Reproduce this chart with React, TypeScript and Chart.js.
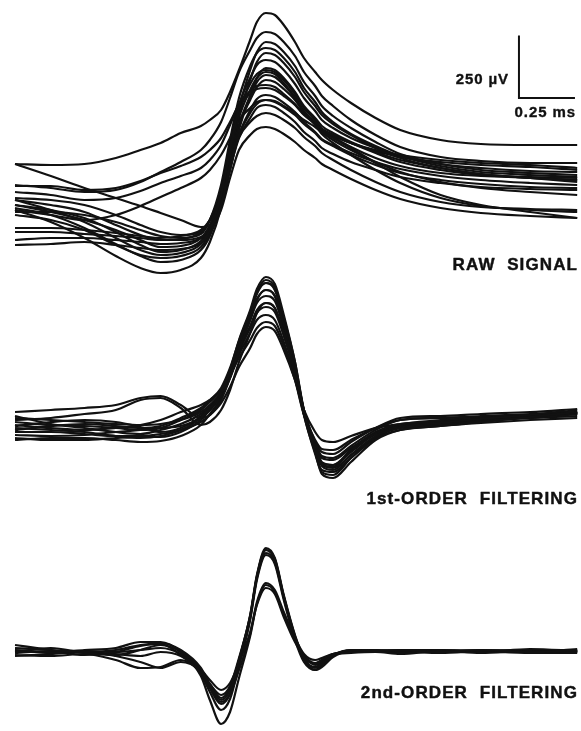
import React, { useEffect, useRef } from "react";
import { Chart, registerables } from "chart.js";

Chart.register(...registerables);

// Sample times (ms) shared by every trace
const TIME_MS = [0, 0.16, 0.31, 0.45, 0.56, 0.65, 0.74, 0.83, 0.87, 0.92, 0.96, 1.0, 1.05, 1.08, 1.12, 1.16, 1.2, 1.25, 1.29, 1.34, 1.37, 1.42, 1.5, 1.61, 1.72, 1.9, 2.08, 2.3, 2.51];

// Raw signal sweeps (µV, relative to panel baseline)
const RAW_SIGNAL = [
  [184, 180, 184, 208, 240, 268, 308, 336, 360, 400, 472, 560, 680, 752, 788, 780, 740, 672, 608, 552, 520, 480, 428, 368, 320, 280, 264, 260, 260],
  [184, 136, 88, 48, 16, -12, -40, -68, -64, 20, 180, 300, 388, 424, 440, 436, 416, 388, 360, 332, 312, 288, 248, 188, 132, 60, 20, -8, -32],
  [100, 88, 72, 80, 112, 152, 192, 240, 280, 352, 448, 552, 640, 688, 712, 704, 672, 616, 552, 496, 456, 416, 360, 300, 252, 212, 196, 188, 188],
  [40, 0, -48, -112, -160, -180, -172, -136, -80, 60, 240, 408, 560, 632, 672, 664, 632, 576, 512, 456, 416, 376, 328, 272, 224, 184, 160, 148, 140],
  [20, -8, -40, -80, -120, -148, -144, -112, -60, 60, 220, 380, 520, 592, 628, 620, 588, 532, 472, 416, 380, 344, 300, 248, 208, 168, 144, 128, 120],
  [-88, -88, -96, -104, -112, -120, -120, -108, -72, 20, 160, 320, 456, 528, 568, 560, 528, 472, 416, 368, 336, 308, 272, 232, 200, 168, 144, 128, 112],
  [0, -48, -112, -184, -232, -252, -240, -192, -128, 8, 180, 340, 456, 512, 540, 532, 500, 448, 392, 340, 304, 268, 220, 160, 108, 48, 16, 0, -8],
  [40, 20, -8, -60, -100, -120, -116, -88, -40, 60, 200, 340, 440, 492, 520, 512, 484, 440, 392, 352, 324, 300, 268, 228, 192, 160, 140, 128, 120],
  [96, 96, 80, 88, 116, 148, 176, 212, 240, 288, 352, 420, 464, 484, 488, 480, 456, 420, 380, 344, 320, 296, 268, 240, 220, 200, 188, 180, 168],
  [-120, -112, -112, -120, -128, -136, -132, -112, -72, 20, 160, 300, 400, 444, 460, 452, 428, 392, 352, 312, 284, 260, 228, 192, 164, 136, 120, 108, 100],
  [0, -20, -40, -20, 16, 52, 88, 128, 160, 220, 288, 360, 408, 432, 440, 432, 412, 380, 344, 308, 280, 256, 220, 180, 148, 120, 104, 92, 88],
  [20, 0, -32, -88, -140, -168, -160, -124, -72, 40, 180, 292, 352, 376, 388, 380, 360, 328, 292, 256, 228, 200, 160, 112, 72, 32, 12, 4, 0],
  [-140, -136, -128, -140, -152, -160, -156, -132, -88, 0, 128, 240, 300, 324, 332, 324, 304, 272, 240, 208, 184, 160, 124, 80, 44, 8, -12, -24, -32],
  [48, 40, 20, -20, -60, -88, -100, -88, -40, 80, 260, 420, 528, 580, 600, 592, 560, 504, 448, 396, 360, 328, 288, 248, 216, 184, 168, 156, 152],
  [72, 60, 40, 48, 76, 108, 136, 168, 200, 260, 340, 424, 476, 496, 500, 492, 464, 424, 384, 348, 324, 300, 268, 236, 212, 192, 180, 172, 160],
  [-20, -40, -80, -140, -180, -192, -184, -148, -92, 40, 220, 392, 504, 544, 560, 552, 520, 464, 408, 360, 324, 292, 252, 208, 176, 148, 136, 132, 128],
  [8, -20, -72, -136, -184, -208, -200, -160, -104, 24, 200, 368, 480, 528, 552, 544, 508, 452, 396, 348, 312, 280, 240, 192, 152, 112, 88, 72, 60],
  [-8, -8, -20, -48, -80, -104, -112, -96, -40, 100, 280, 448, 576, 628, 648, 640, 608, 552, 488, 432, 392, 352, 304, 256, 216, 176, 152, 140, 132],
  [-72, -72, -80, -92, -104, -112, -104, -80, -40, 48, 168, 288, 368, 408, 420, 412, 388, 352, 312, 276, 248, 224, 192, 160, 132, 108, 92, 84, 80],
];

// 1st-order filtered sweeps (µV)
const FIRST_ORDER = [
  [8, 0, -8, -16, -20, -16, 0, 32, 60, 112, 200, 320, 440, 524, 572, 544, 420, 232, 32, -128, -216, -232, -168, -80, -40, -24, -8, 12, 32],
  [-32, -40, -48, -64, -72, -64, -40, 8, 48, 104, 192, 304, 420, 504, 548, 524, 408, 232, 40, -112, -184, -200, -140, -64, -32, -20, -4, 8, 24],
  [32, 40, 48, 60, 88, 96, 60, 8, 20, 80, 168, 280, 400, 480, 520, 496, 384, 216, 40, -100, -168, -180, -128, -56, -28, -12, 4, 20, 40],
  [0, 8, 24, 40, 80, 88, 48, -20, -8, 40, 120, 232, 348, 428, 468, 448, 352, 200, 40, -88, -144, -152, -104, -40, 0, 8, 16, 24, 32],
  [-80, -72, -72, -80, -88, -84, -64, -20, 24, 88, 172, 272, 368, 428, 452, 432, 336, 184, 24, -112, -176, -188, -120, -48, -16, -8, 0, 8, 16],
  [-20, -32, -40, -32, -20, 0, 32, 60, 80, 120, 180, 248, 320, 368, 392, 376, 296, 160, 20, -88, -128, -136, -88, -32, 8, 16, 24, 32, 44],
  [-48, -48, -56, -64, -64, -56, -40, -8, 20, 68, 132, 212, 288, 344, 372, 356, 280, 160, 40, -48, -80, -88, -64, -32, -16, 0, 8, 20, 32],
  [16, -16, -32, -48, -56, -40, -16, 24, 56, 104, 192, 304, 424, 512, 560, 532, 408, 220, 24, -136, -208, -220, -152, -72, -40, -24, -12, 0, 8],
  [-8, -20, -24, -32, -40, -32, 0, 40, 72, 120, 192, 280, 376, 440, 468, 448, 344, 192, 32, -96, -152, -160, -112, -52, -20, -8, 4, 16, 28],
  [-60, -64, -60, -48, -40, -32, -24, 8, 40, 96, 180, 292, 408, 484, 520, 496, 376, 208, 28, -112, -172, -180, -120, -56, -32, -16, 0, 12, 24],
  [-40, -24, -16, -24, -32, -24, 8, 48, 80, 128, 208, 316, 432, 512, 548, 520, 400, 216, 20, -128, -200, -208, -152, -72, -28, -12, 0, 12, 28],
  [-24, -8, 0, -8, -28, -48, -32, 16, 56, 108, 184, 288, 400, 468, 496, 476, 368, 208, 32, -112, -176, -192, -140, -68, -24, -4, 8, 16, 24],
  [-72, -80, -80, -72, -68, -68, -48, 0, 40, 96, 168, 260, 348, 400, 420, 400, 312, 168, 24, -80, -116, -120, -80, -32, 0, 8, 12, 20, 28],
];

// 2nd-order filtered sweeps (µV)
const SECOND_ORDER = [
  [16, 8, 0, 8, 28, 36, 8, -64, -132, -192, -152, -32, 148, 308, 416, 376, 228, 68, -24, -64, -48, -12, 8, 4, 8, 0, 8, 0, 8],
  [0, 16, -4, -12, 8, 28, 0, -72, -144, -208, -168, -44, 136, 300, 408, 372, 224, 64, -20, -48, -32, -8, 0, 0, -8, 4, -4, 4, 0],
  [-12, -16, -8, -32, -64, -60, -32, -80, -128, -172, -136, -24, 144, 296, 396, 360, 216, 56, -32, -72, -60, -20, 4, 8, 4, 8, 0, 12, 4],
  [8, 0, 8, 16, 40, 40, 0, -96, -192, -288, -240, -104, 64, 192, 268, 240, 148, 48, -12, -52, -40, -12, -4, 0, 0, -4, 4, 8, 0],
  [-16, -8, 0, -16, -40, -64, -40, -72, -112, -152, -124, -44, 80, 188, 256, 232, 140, 40, -16, -44, -32, -8, 4, 0, 4, 0, 0, 4, 4],
  [28, 8, -12, 0, 24, 32, -12, -88, -160, -232, -188, -56, 128, 288, 388, 352, 208, 48, -40, -72, -52, -16, 8, 8, 0, 4, 8, 0, 12],
  [-4, 4, 0, -8, -16, 0, -16, -80, -144, -200, -168, -72, 72, 200, 276, 248, 160, 56, -8, -32, -24, -8, 0, 4, 8, 8, 4, -4, -4],
  [8, -4, 4, 0, 8, 16, -8, -72, -128, -184, -144, -32, 144, 304, 408, 368, 220, 60, -28, -60, -44, -12, 4, 4, 8, 0, 4, 8, 4],
];

// Calibration bar: 250 µV vertical, 0.25 ms horizontal (drawn in raw panel)
const SCALE_BAR_MS = [2.25, 2.25, 2.5];
const SCALE_BAR_UV = [698, 448, 448];

const PANEL_LABELS = ["RAW  SIGNAL", "1st-ORDER  FILTERING", "2nd-ORDER  FILTERING"];
const SCALE_LABELS = ["250 µV", "0.25 ms"];

// Layout constants (vertical stacking of the three panels)
const PANEL_OFFSETS = [-840, -1680, -2608];
const W = 581;
const H = 731;
const INK = "#111111";

export default function App() {
  const ref = useRef<HTMLCanvasElement | null>(null);

  useEffect(() => {
    if (!ref.current) return;
    const panels = [RAW_SIGNAL, FIRST_ORDER, SECOND_ORDER];
    const datasets: any[] = [];
    panels.forEach((traces, p) => {
      traces.forEach((tr) => {
        datasets.push({
          data: TIME_MS.map((t, i) => ({ x: t, y: tr[i] + PANEL_OFFSETS[p] })),
          borderColor: INK,
          borderWidth: 2.2,
          pointRadius: 0,
          cubicInterpolationMode: "monotone",
          fill: false,
        });
      });
    });
    datasets.push({
      data: SCALE_BAR_MS.map((t, i) => ({ x: t, y: SCALE_BAR_UV[i] + PANEL_OFFSETS[0] })),
      borderColor: INK,
      borderWidth: 2,
      pointRadius: 0,
      tension: 0,
      fill: false,
    });

    const labelPlugin = {
      id: "labels",
      afterDraw(chart: any) {
        const ctx = chart.ctx as CanvasRenderingContext2D;
        const xs = chart.scales.x;
        const ys = chart.scales.y;
        ctx.save();
        ctx.fillStyle = INK;
        ctx.strokeStyle = INK;
        ctx.lineJoin = "round";
        ctx.textAlign = "right";
        ctx.textBaseline = "alphabetic";
        ctx.font = 'bold 17px "Liberation Sans", Arial, sans-serif';
        (ctx as any).letterSpacing = "1.1px";
        ctx.lineWidth = 0.45;
        const baseY = [270, 504, 698];
        PANEL_LABELS.forEach((lab, i) => {
          ctx.fillText(lab, 578, baseY[i]);
          ctx.strokeText(lab, 578, baseY[i]);
        });
        ctx.font = 'bold 15px "Liberation Sans", Arial, sans-serif';
        (ctx as any).letterSpacing = "0.9px";
        ctx.lineWidth = 0.35;
        const barX = xs.getPixelForValue(SCALE_BAR_MS[0]);
        const barTop = ys.getPixelForValue(SCALE_BAR_UV[0] + PANEL_OFFSETS[0]);
        const barBot = ys.getPixelForValue(SCALE_BAR_UV[1] + PANEL_OFFSETS[0]);
        const barEnd = xs.getPixelForValue(SCALE_BAR_MS[2]);
        const l1y = (barTop + barBot) / 2 + 17;
        ctx.fillText(SCALE_LABELS[0], barX - 10, l1y);
        ctx.strokeText(SCALE_LABELS[0], barX - 10, l1y);
        ctx.fillText(SCALE_LABELS[1], barEnd + 1, barBot + 19);
        ctx.strokeText(SCALE_LABELS[1], barEnd + 1, barBot + 19);
        ctx.restore();
      },
    };

    const chart = new Chart(ref.current, {
      type: "line",
      data: { datasets },
      options: {
        animation: false,
        responsive: false,
        events: [],
        layout: { padding: 0 },
        plugins: { legend: { display: false }, tooltip: { enabled: false } },
        scales: {
          x: { type: "linear", min: -0.067, max: 2.527, display: false },
          y: { type: "linear", min: -2924, max: 0, display: false },
        },
      },
      plugins: [labelPlugin],
    });
    return () => chart.destroy();
  }, []);

  return (
    <div style={{ position: "fixed", left: 0, top: 0, width: W, height: H, background: "#fff" }}>
      <canvas ref={ref} width={W} height={H} style={{ display: "block", width: W, height: H }} />
    </div>
  );
}
